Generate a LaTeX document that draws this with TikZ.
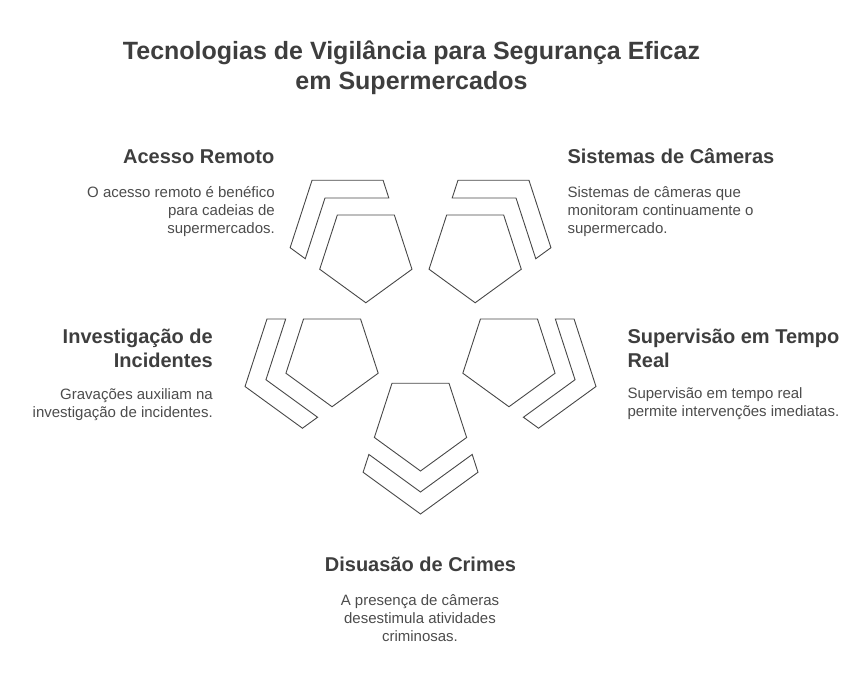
\documentclass[tikz,border=0pt]{standalone}
\usepackage{fontspec}
\setmainfont{Liberation Sans}
\usetikzlibrary{shapes.geometric,calc}

\definecolor{strekfarge}{HTML}{474747}
\definecolor{tittelfarge}{HTML}{3E3E3E}
\definecolor{tekstfarge}{HTML}{4C4C4C}

\tikzset{
  femkant/.style={regular polygon, regular polygon sides=5, shape border rotate=180,
    draw=strekfarge, line width=0.9pt, minimum size=97pt, inner sep=0pt, outer sep=0pt},
  klamme/.style={draw=strekfarge, line width=0.9pt, line join=miter},
  tittel/.style={font=\fontsize{25}{30}\selectfont\bfseries, text=tittelfarge, align=center, inner sep=0pt},
  overskrift/.style={font=\fontsize{20}{24}\selectfont\bfseries, text=tittelfarge, inner sep=0pt},
  beskrivelse/.style={font=\fontsize{15}{18}\selectfont, text=tekstfarge, inner sep=0pt},
}

\begin{document}
\begin{tikzpicture}[x=1pt,y=1pt]
        \useasboundingbox (0,0) rectangle (865,697);
        \coordinate (O) at (420.5,367.5);

        % Femkanter
        \node[femkant] (p1) at ($(O)+(126:93)$) {};
        \node[femkant] (p2) at ($(O)+(54:93)$)  {};
        \node[femkant] (p3) at ($(O)+(342:93)$) {};
        \node[femkant] (p4) at ($(O)+(270:93)$) {};
        \node[femkant] (p5) at ($(O)+(198:93)$) {};

        % Klammer rundt hver femkant
        \foreach \p/\a in {p1/126, p2/54, p3/342, p4/270, p5/198} {
            \coordinate (i0) at ($(\p.center)+(\a:69.5)$);
            \coordinate (ia) at ($(\p.center)+(\a+72:69.5)$);
            \coordinate (ib) at ($(\p.center)+(\a-72:69.5)$);
            \coordinate (o0) at ($(\p.center)+(\a:91.5)$);
            \coordinate (oa) at ($(\p.center)+(\a+72:91.5)$);
            \coordinate (ob) at ($(\p.center)+(\a-72:91.5)$);
            \coordinate (ka1) at ($(\p.center)+(\a+72:48.5)$);
            \coordinate (ka2) at ($(\p.center)+(\a+144:48.5)$);
            \coordinate (kb1) at ($(\p.center)+(\a-72:48.5)$);
            \coordinate (kb2) at ($(\p.center)+(\a-144:48.5)$);
            \draw[klamme] (intersection of i0--ia and ka1--ka2) -- (i0)
                -- (intersection of i0--ib and kb1--kb2)
                -- (intersection of o0--ob and kb1--kb2) -- (o0)
                -- (intersection of o0--oa and ka1--ka2) -- cycle;
        }

        % Tittel (base = siste linje)
        \node[tittel, anchor=base] (tittel) at (411.5,607.7)
            {Tecnologias de Vigilância para Segurança Eficaz\\em Supermercados};

        % Tekst
        \node[overskrift, anchor=base east] (h1) at (274.5,533.7) {Acesso Remoto};
        \node[beskrivelse, anchor=base east, align=right] (b1) at (275,463.3)
            {O acesso remoto é benéfico\\para cadeias de\\supermercados.};

        \node[overskrift, anchor=base west] (h2) at (567.3,533.7) {Sistemas de Câmeras};
        \node[beskrivelse, anchor=base west, align=left] (b2) at (567.3,463.3)
            {Sistemas de câmeras que\\monitoram continuamente o\\supermercado.};

        \node[overskrift, anchor=base west, align=left] (h3) at (627.3,329.7)
            {Supervisão em Tempo\\Real};
        \node[beskrivelse, anchor=base west, align=left] (b3) at (627.3,280.7)
            {Supervisão em tempo real\\permite intervenções imediatas.};

        \node[overskrift, anchor=base] (h4) at (420.5,126) {Disuasão de Crimes};
        \node[beskrivelse, anchor=base, align=center] (b4) at (420,56)
            {A presença de câmeras\\desestimula atividades\\criminosas.};

        \node[overskrift, anchor=base east, align=right] (h5) at (213,329.7)
            {Investigação de\\Incidentes};
        \node[beskrivelse, anchor=base east, align=right] (b5) at (213,279.7)
            {Gravações auxiliam na\\investigação de incidentes.};
    \end{tikzpicture}
\end{document}
